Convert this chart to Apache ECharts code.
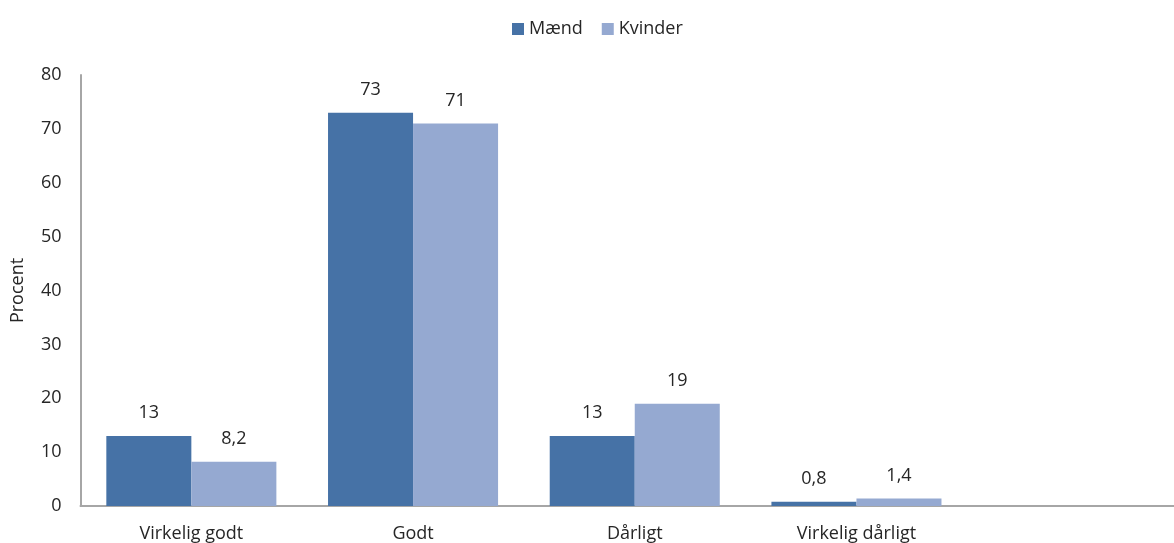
<!DOCTYPE html>
<html>
<head>
<meta charset="utf-8">
<script src="https://cdn.jsdelivr.net/npm/echarts@6/dist/echarts.min.js"></script>
<style>html,body{margin:0;padding:0;background:#fff}#c{width:1174px;height:543px}</style>
</head>
<body>
<div id="c"></div>
<script>
const categories = ['Virkelig godt', 'Godt', 'Dårligt', 'Virkelig dårligt', ''];
const maend = [13, 73, 13, 0.8, null];
const kvinder = [8.2, 71, 19, 1.4, null];
const yTicks = [0, 10, 20, 30, 40, 50, 60, 70, 80];
const seriesNames = ['Mænd', 'Kvinder'];

const FONT = 'Open Sans';
const FS = 18;
const chart = echarts.init(document.getElementById('c'), null, {renderer: 'canvas'});
const fmt = p => (p.value === null || p.value === undefined) ? '' : String(p.value).replace('.', ',');
chart.setOption({
  animation: false,
  textStyle: {fontFamily: FONT},
  legend: {
    top: 15, left: 507,
    itemWidth: 12, itemHeight: 12, itemGap: 19,
    icon: 'rect',
    textStyle: {fontFamily: FONT, fontSize: FS, color: '#262626'},
    data: seriesNames
  },
  grid: {left: 80.5, right: -15, top: 75, bottom: 37, containLabel: false, outerBoundsMode: 'none'},
  xAxis: {
    type: 'category',
    data: categories,
    axisLine: {lineStyle: {color: '#A6A6A6', width: 2}},
    axisTick: {show: false},
    axisLabel: {fontFamily: FONT, fontSize: FS, color: '#262626', margin: 19}
  },
  yAxis: {
    type: 'value',
    min: yTicks[0], max: yTicks[yTicks.length - 1], interval: 10,
    name: 'Procent',
    nameLocation: 'middle',
    nameGap: 54,
    nameRotate: 90,
    nameTextStyle: {fontFamily: FONT, fontSize: FS, color: '#262626'},
    axisLine: {show: true, lineStyle: {color: '#A6A6A6', width: 2}},
    axisTick: {show: false},
    splitLine: {show: false},
    axisLabel: {fontFamily: FONT, fontSize: FS, color: '#262626', margin: 19}
  },
  series: [
    {
      name: seriesNames[0], type: 'bar', data: maend,
      barGap: '0%', barCategoryGap: '23.3%',
      itemStyle: {color: '#4672A6'},
      label: {show: true, position: 'top', distance: 14, fontFamily: FONT, fontSize: FS, color: '#262626', formatter: fmt}
    },
    {
      name: seriesNames[1], type: 'bar', data: kvinder,
      barGap: '0%', barCategoryGap: '23.3%',
      itemStyle: {color: '#95A9D1'},
      label: {show: true, position: 'top', distance: 14, fontFamily: FONT, fontSize: FS, color: '#262626', formatter: fmt}
    }
  ]
});
</script>
</body>
</html>
